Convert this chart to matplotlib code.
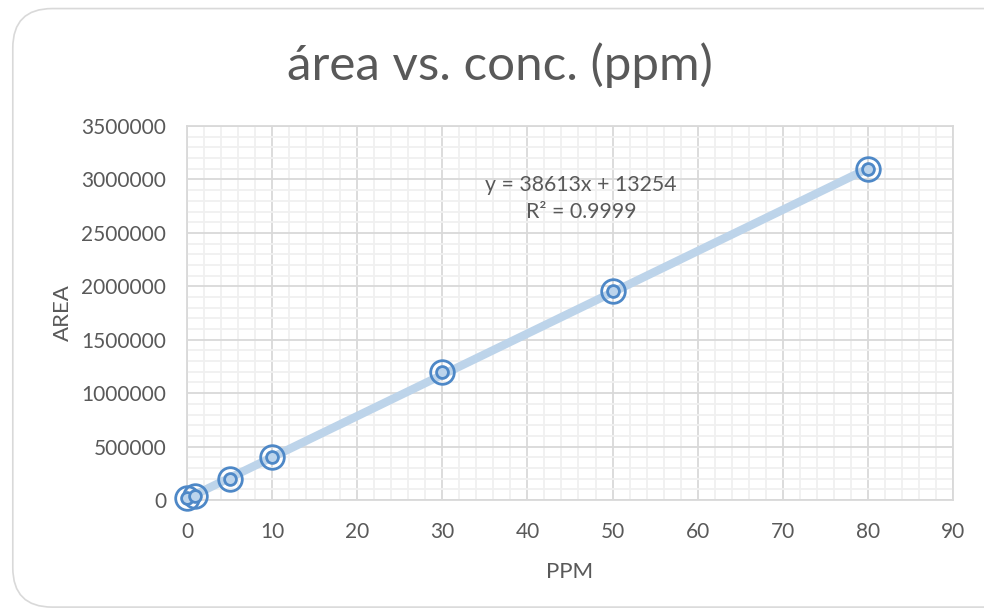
import numpy as np
import matplotlib.pyplot as plt
from matplotlib.patches import FancyBboxPatch
from matplotlib.ticker import MultipleLocator, StrMethodFormatter

# calibration points
ppm = [0, 1, 5, 10, 30, 50, 80]
area = [15000, 40000, 200000, 405000, 1200000, 1956000, 3097000]

# linear trendline as reported
slope = 38613
intercept = 13254
r2 = 0.9999

plt.rcParams['font.family'] = ['Lato', 'DejaVu Sans']
txt = '#595959'

fig = plt.figure(figsize=(9.84, 6.12), dpi=100)

# rounded chart border behind everything
border = FancyBboxPatch((0.013, 0.008), 1.2, 0.978, boxstyle='round,pad=0,rounding_size=0.04',
                        transform=fig.transFigure, facecolor='white', edgecolor='#D9D9D9',
                        linewidth=1.2, mutation_aspect=984 / 612, zorder=-10)
fig.patches.append(border)

ax = fig.add_axes([0.190, 0.183, 0.7785, 0.611])
ax.patch.set_alpha(0)
ax.set_xlim(0, 90)
ax.set_ylim(0, 3500000)
ax.xaxis.set_major_locator(MultipleLocator(10))
ax.xaxis.set_minor_locator(MultipleLocator(2))
ax.yaxis.set_major_locator(MultipleLocator(500000))
ax.yaxis.set_minor_locator(MultipleLocator(100000))
ax.yaxis.set_major_formatter(StrMethodFormatter('{x:.0f}'))
ax.grid(which='minor', color='#F0F0F0', linewidth=1.3)
ax.grid(which='major', color='#D9D9D9', linewidth=1.3)
ax.set_axisbelow(True)
for s in ax.spines.values():
    s.set_color('#D9D9D9')
    s.set_linewidth(1.3)
ax.tick_params(which='both', length=0, labelsize=15, labelcolor=txt)
ax.tick_params(axis='x', pad=16)
ax.tick_params(axis='y', pad=15)

xs = np.array([ppm[0], ppm[-1]])
ax.plot(xs, slope * xs + intercept, color='#BDD4EA', linewidth=6, solid_capstyle='butt', zorder=2)

ax.plot(ppm, area, 'o', markersize=17, markerfacecolor='none', markeredgecolor='#4E88C7',
        markeredgewidth=2, zorder=3, clip_on=False)
ax.plot(ppm, area, 'o', markersize=8.5, markerfacecolor='#BCD4EC', markeredgecolor='#4E88C7',
        markeredgewidth=2, zorder=4, clip_on=False)

fig.text(581 / 984, 1 - 185 / 612, 'y = 38613x + 13254', fontsize=15.3, color=txt, ha='center', va='center')
fig.text(581 / 984, 1 - 212 / 612, 'R² = %.4f' % r2, fontsize=15.3, color=txt, ha='center', va='center')

ax.set_xlabel('PPM', fontsize=16, color=txt, labelpad=14)
ax.set_ylabel('AREA', fontsize=16, color=txt, labelpad=6)
fig.text(0.508, 1 - 65 / 612, 'área vs. conc. (ppm)', fontsize=35.5, color=txt, ha='center', va='center')

fig.savefig('out.png', dpi=100)
